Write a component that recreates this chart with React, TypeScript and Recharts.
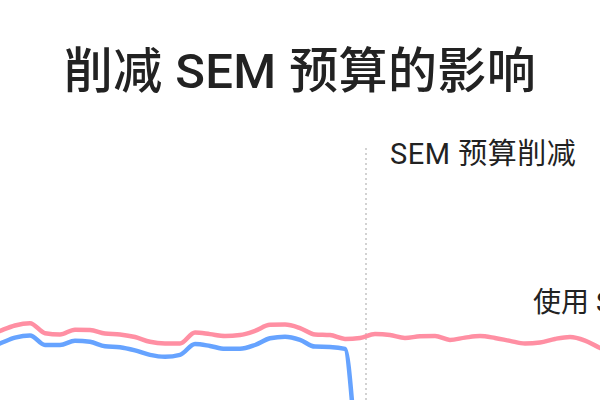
import { LineChart, Line, XAxis, YAxis, ReferenceLine, ReferenceDot } from "recharts";

// one point per day; the chart window shows days 0..40
const days = [
  -1, 0, 1, 2, 3, 4, 5, 6, 7, 8, 9, 10, 11, 12, 13, 14, 15, 16, 17, 18, 19, 20, 21,
  22, 23, 24, 25, 26, 27, 28, 29, 30, 31, 32, 33, 34, 35, 36, 37, 38, 39, 40, 41,
];

// total traffic (pink) keeps going after the cut
const totalTraffic = [
  400, 419, 436, 443, 412, 408, 423, 422, 411, 408, 400, 385, 380, 380, 414, 409, 403,
  406, 419, 438, 439, 428, 408, 406, 394, 397, 409, 406, 397, 402, 403, 391, 398, 403,
  397, 388, 380, 383, 394, 400, 389, 366, 353,
];

// SEM traffic (blue) drops to zero once the budget is cut
const semTraffic = [
  363, 380, 398, 405, 375, 375, 388, 385, 371, 368, 358, 344, 338, 344, 378, 372, 363,
  363, 375, 396, 401, 391, 370, 369, 363, 0, 0, 0, 0, 0, 0, 0, 0, 0, 0, 0, 0, 0, 0, 0,
  0, 0, 0,
];

const TITLE = "削减 SEM 预算的影响";
const CUT_LABEL = "SEM 预算削减";
const LINE_LABEL_HEAD = "使用";
const LINE_LABEL_TAIL = "SEM";
const CUT_DAY = 24.4;
const LINE_LABEL_POS = { day: 35.53, value: 478 };

const data = days.map((day, i) => ({
  day,
  total: totalTraffic[i],
  sem: semTraffic[i],
}));

const FONT = 'Roboto, "Noto Sans CJK SC", sans-serif';

export default function App() {
  return (
    <div
      style={{
        position: "fixed",
        top: 0,
        left: 0,
        width: 600,
        height: 400,
        overflow: "hidden",
        background: "#fff",
        fontFamily: FONT,
      }}
    >
      <div
        style={{
          position: "absolute",
          top: 47,
          left: 0,
          width: 600,
          textAlign: "center",
          fontSize: 49,
          lineHeight: "49px",
          letterSpacing: 0.4,
          fontWeight: 500,
          color: "#222",
          whiteSpace: "nowrap",
        }}
      >
        {TITLE}
      </div>
      <div style={{ position: "absolute", top: 0, left: 0 }}>
        <LineChart
          width={600}
          height={480}
          data={data}
          margin={{ top: 145, right: 0, bottom: 15, left: 0 }}
        >
          <XAxis type="number" dataKey="day" domain={[0, 40]} allowDataOverflow hide />
          <YAxis domain={[0, 1000]} allowDataOverflow hide />
          <ReferenceLine
            x={CUT_DAY}
            stroke="#c4c4c4"
            strokeWidth={1.5}
            strokeDasharray="2 3"
            label={(props: any) => (
              <text
                x={props.viewBox.x + 24}
                y={props.viewBox.y + 19}
                fontSize={29}
                fontFamily={FONT}
                letterSpacing={0.5}
                fill="#222"
              >
                {CUT_LABEL}
              </text>
            )}
          />
          <Line
            type="monotone"
            dataKey="total"
            stroke="#ff8fa3"
            strokeWidth={4.5}
            dot={false}
            isAnimationActive={false}
          />
          <Line
            type="monotone"
            dataKey="sem"
            stroke="#66a3ff"
            strokeWidth={4.5}
            dot={false}
            isAnimationActive={false}
          />
          <ReferenceDot
            x={LINE_LABEL_POS.day}
            y={LINE_LABEL_POS.value}
            r={0}
            fill="none"
            stroke="none"
            label={(props: any) => (
              <text
                x={props.viewBox.x}
                y={props.viewBox.y}
                fontSize={28}
                fontFamily={FONT}
                fill="#222"
              >
                {LINE_LABEL_HEAD}
                <tspan dx={7}>{LINE_LABEL_TAIL}</tspan>
              </text>
            )}
          />
        </LineChart>
      </div>
    </div>
  );
}
